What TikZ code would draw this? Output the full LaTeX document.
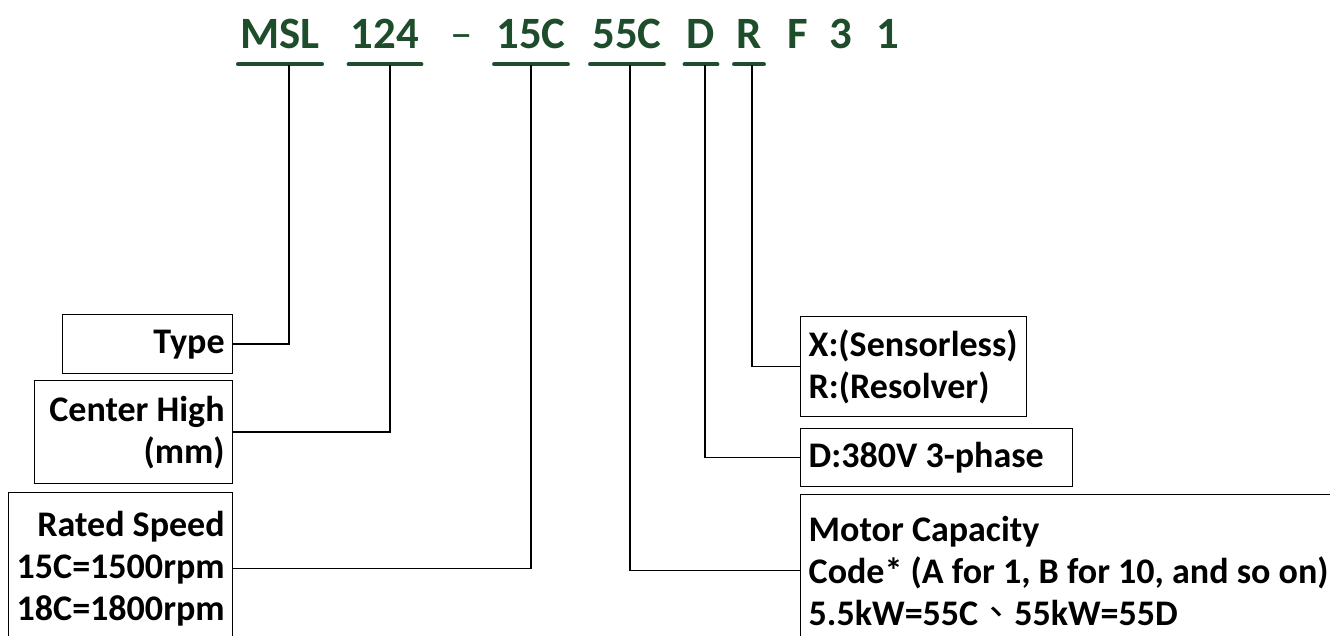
\documentclass[tikz,border=0pt]{standalone}
\usepackage{fontspec}
\setmainfont{Carlito}
\newfontfamily\cjk{Noto Sans CJK TC}
\usepackage{xcolor}
\usepackage{tikz}
\usetikzlibrary{positioning}
\definecolor{codegreen}{HTML}{1E4D2B}

\begin{document}
\begin{tikzpicture}[x=0.02cm, y=-0.02cm,
  code/.style={font=\fontsize{25.5pt}{30pt}\selectfont\bfseries, text=codegreen, anchor=base, inner xsep=0.04cm, inner ysep=0pt, text depth=0pt},
  uline/.style={codegreen, line width=0.08cm, line cap=round},
  lbox/.style={draw, line width=0.8pt, anchor=north west, align=flush right, inner xsep=0.16cm, inner ysep=0pt, font=\fontsize{20.5pt}{23.8pt}\selectfont\bfseries},
  rbox/.style={lbox, align=flush left},
  link/.style={line width=0.8pt}]
\useasboundingbox (0,0) rectangle (1330,636);
\clip (0,0) rectangle (1330,636);
% model code
\node[code] (msl) at (280,48) {MSL};
\node[code] (ch) at (385,48) {124};
\node[code, font=\fontsize{25.5pt}{30pt}\selectfont] (dash) at (462,48) {–};
\node[code] (rs) at (531,48) {15C};
\node[code] (mc) at (627,48) {55C};
\node[code] (vt) at (701,48) {D};
\node[code] (fb) at (749,48) {R};
\node[code] (f) at (798,48) {F};
\node[code] (three) at (841,48) {3};
\node[code] (one) at (888,48) {1};
\foreach \n in {msl,ch,rs,mc,vt,fb}
  \draw[uline] ([yshift=-0.32cm]\n.south west) -- ([yshift=-0.32cm]\n.south east);
% left side
\node[lbox, text width=3.08cm, minimum height=1.18cm] (type) at (62,314) {Type};
\node[lbox, text width=3.64cm, minimum height=2.06cm] (high) at (34,380) {Center High\\(mm)};
\node[lbox, text width=4.16cm, minimum height=3.04cm] (speed) at (8,492) {Rated Speed\\15C=1500rpm\\18C=1800rpm};
% right side
\node[rbox, text width=4.2cm, minimum height=2.0cm] (sensor) at (800,316) {X:(Sensorless)\\R:(Resolver)};
\node[rbox, text width=5.12cm, minimum height=1.16cm] (volt) at (800,428) {D:380V 3-phase};
\node[rbox, text width=11.68cm, minimum height=3.04cm] (cap) at (800,494) {Motor Capacity\\Code* (A for 1, B for 10, and so on)\\5.5kW=55C{\cjk\mdseries 、}55kW=55D};
% connectors
\draw[link] (type.east) -| ([xshift=0.18cm,yshift=-0.34cm]msl.south);
\draw[link] (high.east) -| ([xshift=0.1cm,yshift=-0.34cm]ch.south);
\draw[link] (speed.east) -| ([yshift=-0.34cm]rs.south);
\draw[link] (cap.west) -| ([xshift=0.06cm,yshift=-0.34cm]mc.south);
\draw[link] (volt.west) -| ([xshift=0.08cm,yshift=-0.34cm]vt.south);
\draw[link] (sensor.west) -| ([xshift=0.06cm,yshift=-0.34cm]fb.south);
\end{tikzpicture}
\end{document}
